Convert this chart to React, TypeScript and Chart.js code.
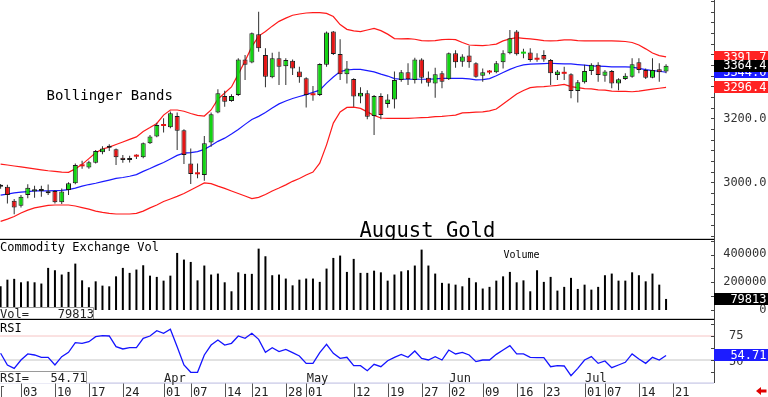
import React, { useEffect, useRef } from "react";
import { Chart, registerables } from "chart.js";

Chart.register(...registerables);

// ---------------- data (index -1 = Feb 26, 0 = Feb 27 ... 97 = Jul 18) ----------------
const firstIndex = -1;

const opens = [
  2986, 2986, 2942, 2927, 2960, 2971, 2979, 2966, 2973, 2938, 2976, 2997, 3052, 3046, 3061, 3094, 3113, 3103, 3077, 3070,
  3081, 3078, 3122, 3143, 3178, 3172, 3207, 3163, 3059, 3027, 3023, 3124, 3218, 3270, 3254, 3273, 3384, 3374, 3463, 3398,
  3328, 3388, 3363, 3380, 3346, 3325, 3274, 3273, 3367, 3471, 3401, 3338, 3323, 3268, 3278, 3207, 3270, 3245, 3259, 3320,
  3344, 3320, 3384, 3327, 3309, 3341, 3322, 3403, 3377, 3396, 3372, 3333, 3345, 3344, 3375, 3403, 3471, 3402, 3406, 3385,
  3398, 3382, 3335, 3341, 3338, 3285, 3313, 3348, 3367, 3333, 3348, 3309, 3323, 3330, 3375, 3351, 3327, 3353, 3346,
];
const highs = [
  2995, 2992, 2948, 2960, 2994, 2989, 2989, 2993, 2976, 2981, 3000, 3059, 3067, 3067, 3101, 3113, 3119, 3106, 3085, 3083,
  3088, 3124, 3148, 3186, 3200, 3221, 3218, 3166, 3106, 3059, 3145, 3218, 3291, 3286, 3275, 3388, 3398, 3468, 3533, 3419,
  3405, 3408, 3388, 3384, 3361, 3328, 3301, 3372, 3471, 3473, 3447, 3379, 3325, 3297, 3288, 3273, 3278, 3275, 3346, 3351,
  3372, 3389, 3388, 3346, 3358, 3348, 3406, 3413, 3400, 3427, 3375, 3356, 3351, 3379, 3413, 3476, 3476, 3417, 3419, 3403,
  3413, 3385, 3351, 3361, 3341, 3320, 3367, 3372, 3375, 3351, 3351, 3325, 3341, 3388, 3388, 3356, 3388, 3372, 3369,
];
const lows = [
  2980, 2934, 2900, 2921, 2950, 2952, 2955, 2960, 2934, 2932, 2960, 2994, 3042, 3042, 3059, 3088, 3098, 3054, 3061, 3062,
  3073, 3075, 3120, 3141, 3156, 3169, 3101, 3057, 2995, 3013, 3005, 3111, 3216, 3236, 3252, 3270, 3320, 3372, 3408, 3297,
  3325, 3304, 3304, 3335, 3311, 3234, 3255, 3270, 3361, 3398, 3320, 3309, 3236, 3247, 3197, 3148, 3197, 3233, 3231, 3314,
  3304, 3309, 3309, 3299, 3264, 3294, 3320, 3358, 3361, 3358, 3327, 3314, 3338, 3341, 3356, 3400, 3396, 3388, 3377, 3377,
  3377, 3304, 3320, 3320, 3263, 3249, 3309, 3335, 3314, 3314, 3294, 3288, 3320, 3327, 3341, 3323, 3325, 3314, 3341,
];
const closes = [
  2990, 2960, 2921, 2955, 2983, 2978, 2973, 2970, 2938, 2971, 2997, 3054, 3050, 3063, 3098, 3106, 3108, 3078, 3070, 3076,
  3080, 3122, 3143, 3179, 3176, 3216, 3161, 3085, 3026, 3025, 3122, 3213, 3278, 3252, 3270, 3384, 3367, 3466, 3419, 3330,
  3388, 3361, 3382, 3356, 3328, 3273, 3272, 3370, 3468, 3401, 3338, 3356, 3268, 3280, 3205, 3270, 3210, 3259, 3320, 3344,
  3322, 3384, 3327, 3311, 3338, 3314, 3403, 3375, 3393, 3375, 3330, 3344, 3343, 3372, 3403, 3450, 3400, 3404, 3382, 3383,
  3384, 3341, 3346, 3339, 3285, 3313, 3348, 3367, 3335, 3346, 3309, 3322, 3333, 3369, 3351, 3327, 3351, 3344, 3364.4,
];

const upperBand = [
  3057, 3054, 3051, 3048, 3045, 3042, 3039, 3036, 3034, 3032, 3031, 3042, 3056, 3074, 3092, 3104, 3110, 3118, 3126, 3134,
  3142, 3159, 3171, 3184, 3210, 3226, 3226, 3222, 3215, 3209, 3207, 3226, 3260, 3279, 3298, 3338, 3379, 3424, 3457, 3471,
  3488, 3503, 3513, 3522, 3526, 3529, 3530, 3530, 3528, 3518, 3493, 3478, 3473, 3471, 3476, 3481, 3474, 3463, 3449, 3448,
  3449, 3447, 3443, 3442, 3443, 3446, 3447, 3446, 3437, 3429, 3428, 3427, 3429, 3432, 3442, 3448, 3452, 3450, 3448, 3446,
  3443, 3442, 3443, 3445, 3445, 3443, 3442, 3442, 3442, 3442, 3442, 3441, 3440, 3437, 3429, 3417, 3404, 3396, 3391.7,
];
const middleBand = [
  2960, 2963, 2967, 2969, 2971, 2973, 2973, 2973, 2974, 2975, 2977, 2982, 2988, 2993, 2997, 3002, 3007, 3012, 3015, 3019,
  3024, 3034, 3043, 3053, 3062, 3073, 3084, 3091, 3093, 3096, 3103, 3115, 3128, 3138, 3151, 3165, 3181, 3196, 3206, 3218,
  3232, 3245, 3254, 3262, 3268, 3274, 3281, 3288, 3310, 3329, 3346, 3351, 3353, 3353, 3349, 3345, 3338, 3332, 3324, 3322,
  3322, 3322, 3322, 3322, 3323, 3325, 3325, 3325, 3325, 3323, 3320, 3321, 3324, 3333, 3343, 3353, 3361, 3367, 3369, 3370,
  3371, 3372, 3371, 3370, 3370, 3368, 3366, 3364, 3363, 3362, 3361, 3361, 3361, 3360, 3356, 3352, 3349, 3347, 3344.0,
];
const lowerBand = [
  2878, 2885, 2893, 2904, 2913, 2920, 2924, 2928, 2929, 2929, 2929, 2926, 2921, 2916, 2910, 2906, 2903, 2901, 2901, 2901,
  2903, 2910, 2920, 2929, 2940, 2948, 2956, 2965, 2976, 2987, 2998, 2996, 2988, 2981, 2973, 2965, 2957, 2949, 2953, 2962,
  2973, 2982, 2992, 3003, 3012, 3023, 3032, 3060, 3117, 3185, 3220, 3234, 3235, 3231, 3220, 3209, 3201, 3200, 3200, 3200,
  3200, 3201, 3202, 3203, 3205, 3206, 3208, 3210, 3217, 3218, 3219, 3220, 3223, 3229, 3245, 3260, 3276, 3287, 3296, 3298,
  3299, 3301, 3303, 3306, 3299, 3296, 3293, 3292, 3289, 3288, 3285, 3284, 3284, 3283, 3285, 3288, 3291, 3294, 3296.4,
];

const volumes = [
  171000, 219000, 225000, 200000, 207000, 200000, 191000, 304000, 287000, 256000, 275000, 335000, 214000, 164000, 207000,
  176000, 171000, 243000, 304000, 268000, 292000, 323000, 248000, 239000, 212000, 248000, 412000, 364000, 347000, 214000,
  321000, 256000, 263000, 200000, 135000, 272000, 261000, 261000, 443000, 388000, 251000, 256000, 227000, 178000, 219000,
  227000, 227000, 203000, 299000, 376000, 393000, 275000, 369000, 268000, 268000, 284000, 272000, 212000, 256000, 279000,
  287000, 321000, 436000, 321000, 263000, 196000, 191000, 183000, 171000, 232000, 200000, 155000, 167000, 212000, 243000,
  275000, 200000, 214000, 135000, 287000, 203000, 239000, 140000, 167000, 232000, 152000, 183000, 147000, 167000, 251000,
  263000, 212000, 212000, 272000, 251000, 207000, 263000, 183000, 79813,
];

const rsiValues = [
  57, 44.8, 41.3, 50, 56.3, 55.2, 52.8, 52.8, 44.8, 53.5, 58, 68, 67.4, 69.1, 74.3, 75.3, 75, 63.9, 61.5, 62.8,
  62.8, 72.6, 75, 80.6, 77.8, 82, 63.9, 44.8, 37.2, 37.2, 55.2, 65.6, 70.8, 65.6, 67.4, 75, 72.6, 77.8, 71.5, 58,
  62.8, 58.7, 61.1, 57.6, 54.2, 46.5, 46.5, 57.6, 66.3, 57, 51.7, 52.8, 44.1, 44.1, 38.9, 45.5, 43, 49.3, 52.8, 55.9,
  52.8, 59.4, 51.7, 50, 53.5, 50, 60.4, 56.3, 58, 55.2, 48.3, 50, 50, 55.9, 60.4, 64.9, 56.3, 56.3, 52.8, 52.4,
  52.4, 43, 44.1, 43.75, 33.7, 41.3, 50, 53.5, 46.5, 49, 42, 44.8, 47.6, 56.3, 51, 46.5, 52.8, 50, 54.71,
];

const dayTickIndex = [2, 7, 12, 17, 23, 27, 32, 36, 41, 44, 51, 56, 61, 65, 70, 75, 79, 85, 88, 93, 98];
const dayTickLabels = ["03", "10", "17", "24", "01", "07", "14", "21", "28", "01", "12", "19", "27", "02", "09", "16", "23", "01", "07", "14", "21"];
const monthTickIndex = [23, 44, 65, 85];
const monthTickLabels = ["Apr", "May", "Jun", "Jul"];
const priceAxisLabels = [3000, 3200];
const volumeAxisLabels = [0, 200000, 400000];
const rsiAxisLabels = [50, 75];
const rsiLevels = [75, 50];

// ---------------- layout / style ----------------
const W = 768;
const AXIS_X = 714;
const MONO = '"DejaVu Sans Mono", "Liberation Mono", monospace';
const X_MIN = -1.09;
const X_MAX = 104.06;
const GREEN = "#12d412";
const RED = "#e51414";

const xs = opens.map((_, k) => k + firstIndex);
const last = closes.length - 1;

function badge(ctx: CanvasRenderingContext2D, y: number, text: string, bg: string) {
  ctx.fillStyle = bg;
  ctx.fillRect(AXIS_X, Math.round(y - 6), W - AXIS_X, 12);
  ctx.fillStyle = "#ffffff";
  ctx.font = `12px ${MONO}`;
  ctx.textAlign = "right";
  ctx.textBaseline = "middle";
  ctx.fillText(text, 766.5, y + 0.5);
}

function axisTicks(ctx: CanvasRenderingContext2D, scale: any, values: number[], top: number, bottom: number) {
  ctx.fillStyle = "#444";
  values.forEach((v) => {
    const py = Math.round(scale.getPixelForValue(v));
    if (py < top || py > bottom) return;
    ctx.fillRect(AXIS_X - 3, py, 3, 1);
  });
}

function baseOptions(yMin: number, yMax: number, padBottom: number): any {
  return {
    responsive: false,
    animation: false,
    events: [],
    layout: { padding: { left: 0, right: W - AXIS_X, top: 0, bottom: padBottom } },
    plugins: { legend: { display: false }, tooltip: { enabled: false } },
    scales: {
      x: { type: "linear", min: X_MIN, max: X_MAX, display: false, offset: false },
      y: { type: "linear", min: yMin, max: yMax, display: false },
    },
  };
}

const pricePlugin = {
  id: "priceDeco",
  afterDraw(chart: any) {
    const ctx: CanvasRenderingContext2D = chart.ctx;
    const y = chart.scales.y;
    ctx.save();
    ctx.fillStyle = "#000";
    ctx.fillRect(0, 238.8, AXIS_X, 1.4);
    ctx.fillStyle = "#444";
    ctx.fillRect(AXIS_X, 0, 1, 240);
    const tv: number[] = [];
    for (let n = -6; n <= 18; n++) tv.push(3000 + (n * 100) / 3);
    axisTicks(ctx, y, tv, 0, 238);
    ctx.font = `12px ${MONO}`;
    ctx.textAlign = "right";
    ctx.textBaseline = "middle";
    ctx.fillStyle = "#333";
    priceAxisLabels.forEach((v) => ctx.fillText(v.toFixed(1), 766.5, y.getPixelForValue(v) + 0.5));
    badge(ctx, y.getPixelForValue(upperBand[last]), upperBand[last].toFixed(1), "#ff2222");
    badge(ctx, y.getPixelForValue(middleBand[last]), middleBand[last].toFixed(1), "#1c1cff");
    badge(ctx, y.getPixelForValue(closes[last]), closes[last].toFixed(1), "#000000");
    badge(ctx, y.getPixelForValue(lowerBand[last]), lowerBand[last].toFixed(1), "#ff2222");
    ctx.textAlign = "left";
    ctx.textBaseline = "alphabetic";
    ctx.fillStyle = "#000";
    ctx.font = `14px ${MONO}`;
    ctx.fillText("Bollinger Bands", 46.5, 99.5);
    ctx.font = `20.5px ${MONO}`;
    ctx.fillText("August Gold", 359.5, 237);
    ctx.restore();
  },
};

const volumePlugin = {
  id: "volumeDeco",
  afterDraw(chart: any) {
    const ctx: CanvasRenderingContext2D = chart.ctx;
    const y = chart.scales.y;
    ctx.save();
    ctx.fillStyle = "#444";
    ctx.fillRect(AXIS_X, 0, 1, 80);
    axisTicks(ctx, y, [0, 100000, 200000, 300000, 400000, 500000], 0, 78);
    ctx.font = `12px ${MONO}`;
    ctx.textAlign = "right";
    ctx.textBaseline = "middle";
    ctx.fillStyle = "#333";
    volumeAxisLabels.forEach((v) => ctx.fillText(String(v), 766.5, y.getPixelForValue(v) - 0.5));
    badge(ctx, y.getPixelForValue(volumes[last]), String(volumes[last]), "#000000");
    // texts
    ctx.textAlign = "left";
    ctx.textBaseline = "alphabetic";
    ctx.fillStyle = "#000";
    ctx.font = `12px ${MONO}`;
    ctx.fillText("Commodity Exchange Vol", 0, 10.5);
    ctx.font = `10px ${MONO}`;
    ctx.fillText("Volume", 503.5, 18);
    // value box
    ctx.fillStyle = "#fff";
    ctx.fillRect(0, 67.5, 93.5, 11.5);
    ctx.strokeStyle = "#9a9a9a";
    ctx.lineWidth = 1;
    ctx.beginPath();
    ctx.moveTo(0, 67.5);
    ctx.lineTo(93.5, 67.5);
    ctx.lineTo(93.5, 79);
    ctx.stroke();
    ctx.fillStyle = "#222";
    ctx.font = `12px ${MONO}`;
    ctx.fillText("Vol=    " + String(volumes[last]), 0, 77.5);
    ctx.fillStyle = "#000";
    ctx.fillRect(0, 78.8, AXIS_X, 1.4);
    ctx.restore();
  },
};

const rsiPlugin = {
  id: "rsiDeco",
  afterDraw(chart: any) {
    const ctx: CanvasRenderingContext2D = chart.ctx;
    const y = chart.scales.y;
    const x = chart.scales.x;
    ctx.save();
    ctx.fillStyle = "#444";
    ctx.fillRect(AXIS_X, 0, 1, 63);
    axisTicks(ctx, y, [87.5, 75, 62.5, 50, 37.5], 0, 62);
    ctx.font = `12px ${MONO}`;
    ctx.textAlign = "left";
    ctx.textBaseline = "middle";
    ctx.fillStyle = "#333";
    rsiAxisLabels.forEach((v) => ctx.fillText(String(v), 729, y.getPixelForValue(v) + (v === 50 ? 1.5 : 0)));
    badge(ctx, y.getPixelForValue(rsiValues[last]), rsiValues[last].toFixed(2), "#1c1cff");
    // bottom line
    ctx.fillStyle = "#c6c6e6";
    ctx.fillRect(0, 62.5, AXIS_X, 1.2);
    // titles
    ctx.textAlign = "left";
    ctx.textBaseline = "alphabetic";
    ctx.fillStyle = "#000";
    ctx.font = `12px ${MONO}`;
    ctx.fillText("RSI", 0, 12);
    // month labels
    ctx.fillStyle = "#222";
    monthTickIndex.forEach((i, k) => ctx.fillText(monthTickLabels[k], x.getPixelForValue(i) + 0.5, 62));
    // value box
    ctx.fillStyle = "#fff";
    ctx.fillRect(0, 51.5, 86.5, 12);
    ctx.strokeStyle = "#9a9a9a";
    ctx.lineWidth = 1;
    ctx.beginPath();
    ctx.moveTo(0, 51.5);
    ctx.lineTo(86.5, 51.5);
    ctx.lineTo(86.5, 63.5);
    ctx.stroke();
    ctx.fillStyle = "#222";
    ctx.fillText("RSI=   " + rsiValues[last].toFixed(2), 0, 62);
    // date axis
    dayTickIndex.forEach((i, k) => {
      const px = Math.round(x.getPixelForValue(i));
      ctx.fillStyle = "#555";
      ctx.fillRect(px, 63.5, 1, 13.5);
      ctx.fillStyle = "#222";
      ctx.fillText(dayTickLabels[k], px + 2, 75.7);
    });
    ctx.fillStyle = "#555";
    ctx.fillRect(1, 66, 1, 11);
    ctx.fillRect(1, 66, 3, 1);
    // red arrow
    ctx.fillStyle = "#e00000";
    ctx.beginPath();
    ctx.moveTo(756, 71);
    ctx.lineTo(761, 67);
    ctx.lineTo(761, 75);
    ctx.closePath();
    ctx.fill();
    ctx.fillRect(760, 69.5, 6.5, 3);
    ctx.restore();
  },
};

function usePriceChart(ref: React.RefObject<HTMLCanvasElement>) {
  useEffect(() => {
    if (!ref.current) return;
    const lineDs = (data: number[], color: string, order: number) => ({
      type: "line",
      data: xs.map((x, k) => ({ x, y: data[k] })),
      borderColor: color,
      borderWidth: 1.2,
      pointRadius: 0,
      tension: 0,
      fill: false,
      order,
    });
    const chart = new Chart(ref.current, {
      type: "bar",
      data: {
        datasets: [
          lineDs(upperBand, "#ff1a1a", 5),
          lineDs(middleBand, "#1a1aff", 4),
          lineDs(lowerBand, "#ff1a1a", 5),
          {
            type: "bar",
            data: xs.map((x, k) => ({ x, y: [lows[k], highs[k]] })),
            backgroundColor: "#303030",
            barThickness: 1,
            grouped: false,
            borderSkipped: false,
            borderWidth: 0,
            inflateAmount: 0,
            order: 2,
          },
          {
            type: "bar",
            data: xs.map((x, k) => ({ x, y: [opens[k], closes[k]] })),
            backgroundColor: xs.map((_, k) => (closes[k] >= opens[k] ? GREEN : RED)),
            borderColor: "#1a1a1a",
            borderWidth: xs.map((_, k) => (Math.abs(closes[k] - opens[k]) < 4 ? 0 : 1)),
            borderSkipped: false,
            barThickness: 5,
            minBarLength: 2,
            grouped: false,
            inflateAmount: 0,
            order: 1,
          },
        ],
      } as any,
      options: baseOptions(2822.8, 3569.7, 1),
      plugins: [pricePlugin],
    } as any);
    return () => chart.destroy();
  }, []);
}

function useVolumeChart(ref: React.RefObject<HTMLCanvasElement>) {
  useEffect(() => {
    if (!ref.current) return;
    const chart = new Chart(ref.current, {
      type: "bar",
      data: {
        datasets: [
          {
            data: xs.map((x, k) => ({ x, y: volumes[k] })),
            backgroundColor: "#000",
            barThickness: 2,
            grouped: false,
            inflateAmount: 0,
          },
        ],
      } as any,
      options: baseOptions(-64980, 505400, 1),
      plugins: [volumePlugin],
    } as any);
    return () => chart.destroy();
  }, []);
}

function useRsiChart(ref: React.RefObject<HTMLCanvasElement>) {
  useEffect(() => {
    if (!ref.current) return;
    const levelDs = (v: number, color: string) => ({
      data: [
        { x: X_MIN, y: v },
        { x: X_MAX, y: v },
      ],
      borderColor: color,
      borderWidth: 1,
      pointRadius: 0,
      order: 3,
    });
    const chart = new Chart(ref.current, {
      type: "line",
      data: {
        datasets: [
          levelDs(rsiLevels[0], "#f6c4c4"),
          levelDs(rsiLevels[1], "#c4c4c4"),
          {
            data: xs.map((x, k) => ({ x, y: rsiValues[k] })),
            borderColor: "#1414ff",
            borderWidth: 1.3,
            pointRadius: 0,
            tension: 0,
            order: 1,
          },
        ],
      } as any,
      options: baseOptions(26.04, 91.67, 14),
      plugins: [rsiPlugin],
    } as any);
    return () => chart.destroy();
  }, []);
}

export default function App() {
  const priceRef = useRef<HTMLCanvasElement>(null);
  const volRef = useRef<HTMLCanvasElement>(null);
  const rsiRef = useRef<HTMLCanvasElement>(null);
  usePriceChart(priceRef);
  useVolumeChart(volRef);
  useRsiChart(rsiRef);
  return (
    <div style={{ position: "absolute", left: 0, top: 0, width: W, height: 397, background: "#fff", overflow: "hidden" }}>
      <canvas ref={priceRef} width={W} height={240} style={{ display: "block", position: "absolute", left: 0, top: 0 }} />
      <canvas ref={volRef} width={W} height={80} style={{ display: "block", position: "absolute", left: 0, top: 240 }} />
      <canvas ref={rsiRef} width={W} height={77} style={{ display: "block", position: "absolute", left: 0, top: 320 }} />
    </div>
  );
}
